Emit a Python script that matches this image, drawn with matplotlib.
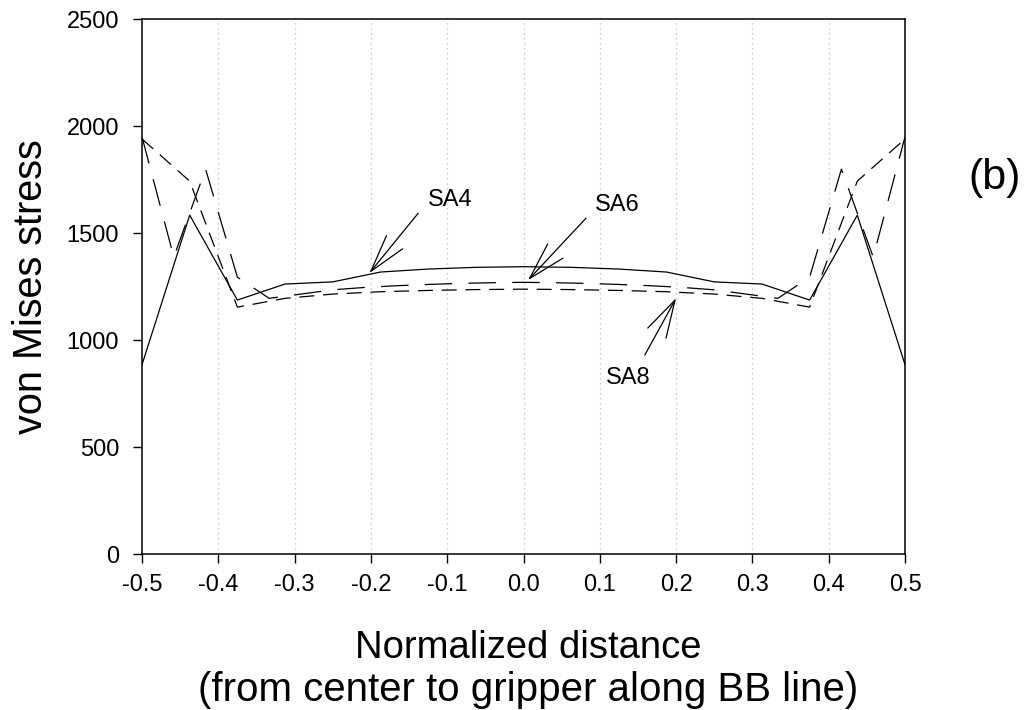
import numpy as np
import matplotlib.pyplot as plt
from matplotlib.patches import ArrowStyle

plt.rcParams['font.family'] = ['Liberation Sans', 'DejaVu Sans']

# ---- data: von Mises stress along the BB line ----
x_sa4 = np.linspace(-0.5, 0.5, 17)
sa4 = [885, 1584, 1187, 1262, 1272, 1318, 1332, 1340, 1343,
       1340, 1332, 1318, 1272, 1262, 1187, 1584, 885]

x_sa6 = np.linspace(-0.5, 0.5, 25)
sa6 = [1950, 1388, 1799, 1294, 1195, 1215, 1235, 1246, 1254, 1260, 1265, 1268, 1270,
       1268, 1265, 1260, 1254, 1246, 1235, 1215, 1195, 1294, 1799, 1388, 1950]

x_sa8 = np.linspace(-0.5, 0.5, 17)
sa8 = [1940, 1743, 1154, 1195, 1215, 1226, 1232, 1236, 1238,
       1236, 1232, 1226, 1215, 1195, 1154, 1743, 1940]

xticks = [-0.5, -0.4, -0.3, -0.2, -0.1, 0.0, 0.1, 0.2, 0.3, 0.4, 0.5]
xticklabels = ['-0.5', '-0.4', '-0.3', '-0.2', '-0.1', '0.0', '0.1', '0.2', '0.3', '0.4', '0.5']
yticks = [0, 500, 1000, 1500, 2000, 2500]

# ---- figure ----
fig = plt.figure(figsize=(10.29, 7.10), dpi=100)
ax = fig.add_axes([0.138, 0.2197, 0.7415, 0.7533])

for xv in xticks[1:-1]:
    ax.axvline(xv, color='#b8b8b8', lw=0.9, ls=(0, (1, 3)), zorder=0)

ax.plot(x_sa4, sa4, color='black', lw=0.9)
ax.plot(x_sa6, sa6, color='black', lw=0.9, ls=(0, (22, 13)))
ax.plot(x_sa8, sa8, color='black', lw=0.9, ls=(0, (12, 7)))

ax.set_xlim(-0.5, 0.5)
ax.set_ylim(0, 2500)
ax.set_xticks(xticks)
ax.set_xticklabels(xticklabels)
ax.set_yticks(yticks)
ax.tick_params(direction='out', length=6.5, width=1, labelsize=17)
ax.tick_params(axis='y', pad=10)
ax.tick_params(axis='x', pad=8)
for s in ax.spines.values():
    s.set_linewidth(1.1)

ax.set_ylabel('von Mises stress', fontsize=28.5, labelpad=12)

# two-line x axis title
fig.text(0.513, 1 - 658 / 710, 'Normalized distance', fontsize=27.5,
         ha='center', va='baseline')
fig.text(0.513, 1 - 701 / 710, '(from center to gripper along BB line)', fontsize=29,
         ha='center', va='baseline')

# labels with arrows
arrow = ArrowStyle('->', head_length=27, head_width=7.5)
kw = dict(arrowprops=dict(arrowstyle=arrow, color='black', lw=0.9,
                          shrinkA=0, shrinkB=0, mutation_scale=1))
ax.annotate('', xy=(-0.202, 1313), xytext=(-0.138, 1593), **kw)
ax.text(-0.096, 1654, 'SA4', fontsize=17, ha='center', va='center')
ax.annotate('', xy=(0.006, 1280), xytext=(0.082, 1570), **kw)
ax.text(0.123, 1631, 'SA6', fontsize=17, ha='center', va='center')
ax.annotate('', xy=(0.200, 1196), xytext=(0.159, 930), **kw)
ax.text(0.137, 822, 'SA8', fontsize=17, ha='center', va='center')

fig.text(0.967, 0.749, '(b)', fontsize=31, ha='center', va='center')

fig.savefig('out.png', dpi=100)
